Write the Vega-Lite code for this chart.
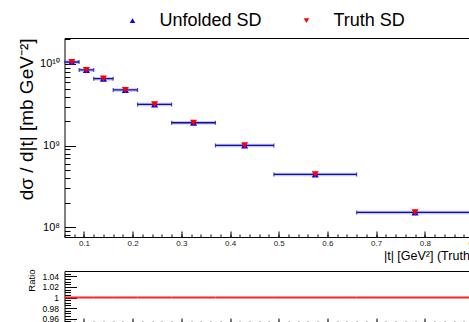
{
  "$schema": "https://vega.github.io/schema/vega-lite/v6.json",
  "padding": {"left": 16.5, "top": 11, "right": 0, "bottom": 0},
  "background": "white",
  "data": {"values": [
    {"t": 0.075, "lo": 0.06, "hi": 0.09, "Unfolded SD": 1.058e10, "Truth SD": 1.058e10, "ratio": 1},
    {"t": 0.105, "lo": 0.09, "hi": 0.12, "Unfolded SD": 8.45e9, "Truth SD": 8.45e9, "ratio": 1},
    {"t": 0.14, "lo": 0.12, "hi": 0.16, "Unfolded SD": 6.61e9, "Truth SD": 6.61e9, "ratio": 1},
    {"t": 0.185, "lo": 0.16, "hi": 0.21, "Unfolded SD": 4.81e9, "Truth SD": 4.81e9, "ratio": 1},
    {"t": 0.245, "lo": 0.21, "hi": 0.28, "Unfolded SD": 3.2e9, "Truth SD": 3.2e9, "ratio": 1},
    {"t": 0.325, "lo": 0.28, "hi": 0.37, "Unfolded SD": 1.91e9, "Truth SD": 1.91e9, "ratio": 1},
    {"t": 0.43, "lo": 0.37, "hi": 0.49, "Unfolded SD": 1.009e9, "Truth SD": 1.009e9, "ratio": 1},
    {"t": 0.575, "lo": 0.49, "hi": 0.66, "Unfolded SD": 4.45e8, "Truth SD": 4.45e8, "ratio": 1},
    {"t": 0.78, "lo": 0.66, "hi": 0.9, "Unfolded SD": 1.526e8, "Truth SD": 1.526e8, "ratio": 1}
  ]},
  "spacing": 34,
  "bounds": "flush",
  "resolve": {"scale": {"x": "independent", "y": "independent"}},
  "vconcat": [
    {
      "width": 409,
      "height": 199,
      "resolve": {"axis": {"x": "independent", "y": "independent"}},
      "layer": [
        {
          "mark": {"type": "rule", "color": "#9c9cf2", "strokeWidth": 3.5, "opacity": 0.6, "clip": true},
          "encoding": {
            "x": {"field": "lo", "type": "quantitative",
              "scale": {"domain": [0.06, 0.9], "nice": false, "zero": false},
              "axis": {"orient": "bottom", "values": [0.1, 0.2, 0.3, 0.4, 0.5, 0.6, 0.7, 0.8, 0.9], "ticks": false, "format": ".1f",
                "labelFontSize": 8, "labelPadding": 2, "labelColor": "#222",
                "title": "|t| [GeV²] (Truth)", "titleFontSize": 12.5, "titleX": 409, "titleY": 22, "titleAlign": "right", "titleBaseline": "alphabetic", "titleAngle": 0}},
            "x2": {"field": "hi"},
            "y": {"field": "Truth SD", "type": "quantitative",
              "scale": {"type": "log", "domain": [7.63e7, 2.08e10], "nice": false},
              "axis": {"orient": "left", "values": [1e8, 1e9, 1e10], "ticks": false,
                "labelExpr": "datum.value == 1e10 ? '10¹⁰' : datum.value == 1e9 ? '10⁹' : '10⁸'",
                "labelFontSize": 11, "labelPadding": 5,
                "title": "dσ / d|t| [mb GeV⁻²]", "titleFontSize": 19, "titleX": -38, "titleY": 0, "titleAngle": 270, "titleAlign": "right", "titleBaseline": "middle"}}
          }
        },
        {
          "mark": {"type": "rule", "color": "#1010a0", "strokeWidth": 1.3, "clip": true},
          "encoding": {
            "x": {"field": "lo", "type": "quantitative",
              "axis": {"orient": "bottom", "values": [0.1, 0.2, 0.3, 0.4, 0.5, 0.6, 0.7, 0.8, 0.9], "labels": false, "title": null, "tickSize": 6, "offset": -6}},
            "x2": {"field": "hi"},
            "y": {"field": "Truth SD", "type": "quantitative",
              "axis": {"orient": "left", "values": [1e8, 1e9, 1e10], "labels": false, "title": null, "tickSize": 11, "offset": -11}}
          }
        },
        {
          "mark": {"type": "tick", "orient": "vertical", "color": "#1010a0", "size": 4, "thickness": 1.2, "clip": true},
          "encoding": {
            "x": {"field": "lo", "type": "quantitative",
              "axis": {"orient": "bottom", "values": [0.06,0.08,0.1,0.12,0.14,0.16,0.18,0.2,0.22,0.24,0.26,0.28,0.3,0.32,0.34,0.36,0.38,0.4,0.42,0.44,0.46,0.48,0.5,0.52,0.54,0.56,0.58,0.6,0.62,0.64,0.66,0.68,0.7,0.72,0.74,0.76,0.78,0.8,0.82,0.84,0.86,0.88], "labels": false, "title": null, "tickSize": 3, "offset": -3}},
            "y": {"field": "Truth SD", "type": "quantitative",
              "axis": {"orient": "left", "values": [8e7,9e7,2e8,3e8,4e8,5e8,6e8,7e8,8e8,9e8,2e9,3e9,4e9,5e9,6e9,7e9,8e9,9e9,2e10], "labels": false, "title": null, "tickSize": 5.5, "offset": -5.5}}
          }
        },
        {
          "mark": {"type": "tick", "orient": "vertical", "color": "#1010a0", "size": 4, "thickness": 1.2, "clip": true},
          "encoding": {
            "x": {"field": "hi", "type": "quantitative", "axis": null},
            "y": {"field": "Truth SD", "type": "quantitative", "axis": null}
          }
        },
        {
          "transform": [{"fold": ["Unfolded SD", "Truth SD"], "as": ["series", "value"]}],
          "mark": {"type": "point", "filled": true, "size": 50, "opacity": 1},
          "encoding": {
            "x": {"field": "t", "type": "quantitative", "axis": null},
            "y": {"field": "value", "type": "quantitative", "axis": null},
            "color": {"field": "series", "type": "nominal",
              "scale": {"domain": ["Unfolded SD", "Truth SD"], "range": ["#0000ff", "#ff0000"]},
              "legend": {"orient": "none", "legendX": 59, "legendY": -26.3, "direction": "horizontal", "title": null,
                "labelFontSize": 18, "labelColor": "black", "symbolSize": 30, "labelOffset": 18, "columnPadding": 35, "padding": 0}},
            "shape": {"field": "series", "type": "nominal",
              "scale": {"domain": ["Unfolded SD", "Truth SD"], "range": ["triangle-up", "triangle-down"]},
              "legend": {"orient": "none", "legendX": 59, "legendY": -26.3, "direction": "horizontal", "title": null,
                "labelFontSize": 18, "labelColor": "black", "symbolSize": 30, "labelOffset": 18, "columnPadding": 35, "padding": 0}}
          }
        }
      ]
    },
    {
      "width": 409,
      "height": 53,
      "resolve": {"axis": {"x": "independent", "y": "independent"}},
      "layer": [
        {
          "mark": {"type": "rule", "color": "#ff2020", "strokeWidth": 2, "clip": true},
          "encoding": {
            "x": {"field": "lo", "type": "quantitative",
              "scale": {"domain": [0.06, 0.9], "nice": false, "zero": false}, "axis": null},
            "x2": {"field": "hi"},
            "y": {"field": "ratio", "type": "quantitative",
              "scale": {"domain": [0.95, 1.05], "nice": false, "zero": false},
              "axis": {"orient": "left", "values": [0.96, 0.98, 1, 1.02, 1.04], "ticks": false,
                "labelExpr": "datum.value == 1 ? '1' : format(datum.value, '.2f')",
                "labelFontSize": 8.5, "labelPadding": 6,
                "title": "Ratio", "titleFontSize": 9.5, "titleX": -33, "titleY": -2, "titleAngle": 270, "titleAlign": "right", "titleBaseline": "middle"}}
          }
        },
        {
          "mark": {"type": "rule", "opacity": 0},
          "encoding": {
            "x": {"field": "lo", "type": "quantitative",
              "axis": {"orient": "bottom", "values": [0.1, 0.2, 0.3, 0.4, 0.5, 0.6, 0.7, 0.8, 0.9], "labels": false, "title": null, "tickSize": 6, "offset": -6}},
            "y": {"field": "ratio", "type": "quantitative",
              "axis": {"orient": "left", "values": [0.96, 0.98, 1, 1.02, 1.04], "labels": false, "title": null, "tickSize": 12, "offset": -12}}
          }
        },
        {
          "mark": {"type": "rule", "opacity": 0},
          "encoding": {
            "x": {"field": "lo", "type": "quantitative",
              "axis": {"orient": "bottom", "values": [0.06,0.08,0.1,0.12,0.14,0.16,0.18,0.2,0.22,0.24,0.26,0.28,0.3,0.32,0.34,0.36,0.38,0.4,0.42,0.44,0.46,0.48,0.5,0.52,0.54,0.56,0.58,0.6,0.62,0.64,0.66,0.68,0.7,0.72,0.74,0.76,0.78,0.8,0.82,0.84,0.86,0.88], "labels": false, "title": null, "tickSize": 3, "offset": -3}},
            "y": {"field": "ratio", "type": "quantitative",
              "axis": {"orient": "left", "values": [0.95,0.955,0.96,0.965,0.97,0.975,0.98,0.985,0.99,0.995,1,1.005,1.01,1.015,1.02,1.025,1.03,1.035,1.04,1.045,1.05], "labels": false, "title": null, "tickSize": 6, "offset": -6}}
          }
        }
      ]
    }
  ],
  "config": {
    "font": "Liberation Sans",
    "view": {"stroke": "black", "strokeWidth": 1},
    "axis": {"domain": false, "grid": false, "tickColor": "black", "tickWidth": 1, "labelColor": "black", "titleColor": "black",
      "titleFontWeight": "normal", "labelFont": "Liberation Sans", "titleFont": "Liberation Sans", "labelFlush": false, "labelOverlap": false},
    "legend": {"labelFont": "Liberation Sans"}
  }
}
